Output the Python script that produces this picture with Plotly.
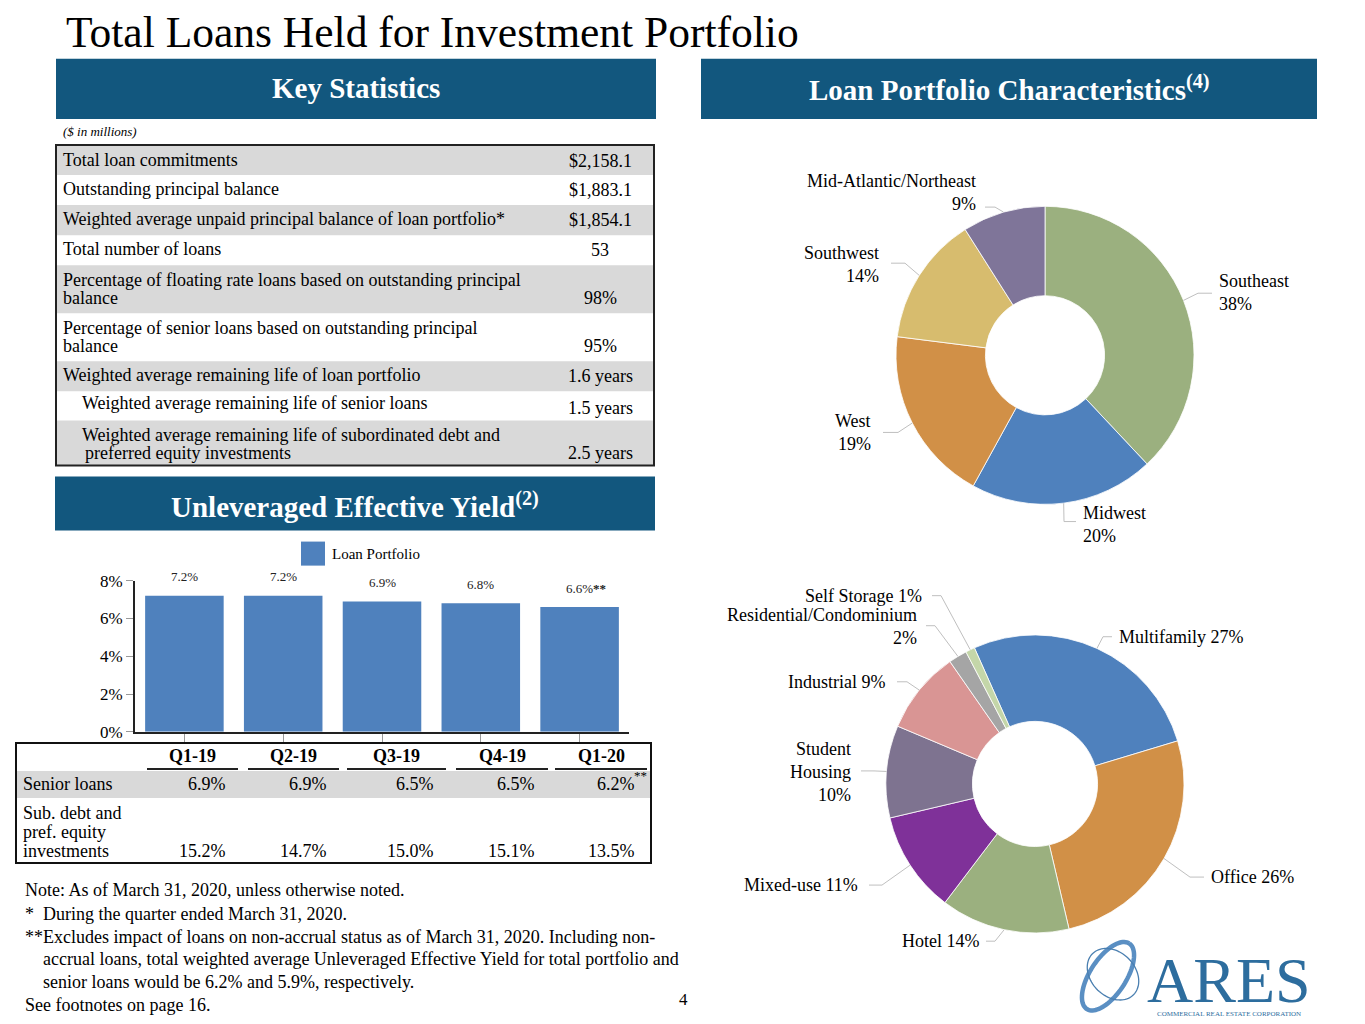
import math
import numpy as np
import plotly.graph_objects as go

W, H = 1365, 1024
SERIF = "Liberation Serif, Times New Roman, serif"
NAVY = "#12577E"
GRAY = "#D9D9D9"
BAR_BLUE = "#4F81BD"
LEADER = "#BFBFBF"

# ---------------- data ----------------
stat_labels = [
    "Total loan commitments",
    "Outstanding principal balance",
    "Weighted average unpaid principal balance of loan portfolio*",
    "Total number of loans",
    "Percentage of floating rate loans based on outstanding principal|balance",
    "Percentage of senior loans based on outstanding principal|balance",
    "Weighted average remaining life of loan portfolio",
    "Weighted average remaining life of senior loans",
    "Weighted average remaining life of subordinated debt and| preferred equity investments",
]
stat_values = ["$2,158.1", "$1,883.1", "$1,854.1", "53", "98%", "95%",
               "1.6 years", "1.5 years", "2.5 years"]

quarters = ["Q1-19", "Q2-19", "Q3-19", "Q4-19", "Q1-20"]
portfolio_yield = [7.2, 7.2, 6.9, 6.8, 6.6]
portfolio_note = ["", "", "", "", "**"]
senior_yield = [6.9, 6.9, 6.5, 6.5, 6.2]
sub_debt_yield = [15.2, 14.7, 15.0, 15.1, 13.5]

region_names = ["Southeast", "Midwest", "West", "Southwest", "Mid-Atlantic/Northeast"]
region_pct = [38, 20, 19, 14, 9]
region_colors = ["#9BB07F", "#4F81BD", "#D19047", "#D7BC6E", "#7F7599"]

property_names = ["Multifamily", "Office", "Hotel", "Mixed-use", "Student Housing",
                  "Industrial", "Residential/Condominium", "Self Storage"]
property_pct = [27, 26, 14, 11, 10, 9, 2, 1]
property_colors = ["#4F81BD", "#D19047", "#9BB07F", "#7F3199", "#7E7390",
                   "#D99594", "#A5A5A5", "#C4D6A9"]

footnotes = [
    "Note: As of March 31, 2020, unless otherwise noted.",
    "*  During the quarter ended March 31, 2020.",
    "**Excludes impact of loans on non-accrual status as of March 31, 2020. Including non-",
    "accrual loans, total weighted average Unleveraged Effective Yield for total portfolio and",
    "senior loans would be 6.2% and 5.9%, respectively.",
    "See footnotes on page 16.",
]

# ---------------- helpers ----------------
# page offset / vertical scale observed in the rendered photograph
Y_OFF, Y_SCALE = 9.2, 0.98


def px(x):
    return x / W


def py(y):
    return 1 - ((y - Y_OFF) / Y_SCALE) / H


fig = go.Figure()


def txt(x, y, s, size=18, color="black", xanchor="left", yanchor="middle"):
    fig.add_annotation(x=px(x), y=py(y), xref="paper", yref="paper", text=s,
                       showarrow=False, xanchor=xanchor, yanchor=yanchor,
                       borderpad=0,
                       font=dict(family=SERIF, size=size, color=color))


def rect(x0, y0, x1, y1, fill=None, line=None, lw=0, layer="below"):
    fig.add_shape(type="rect", xref="paper", yref="paper",
                  x0=px(x0), x1=px(x1), y0=py(y1), y1=py(y0),
                  fillcolor=fill if fill else "rgba(0,0,0,0)",
                  line=dict(color=line if line else "rgba(0,0,0,0)", width=lw),
                  layer=layer)


def polyline(pts, color=LEADER, width=1):
    path = "M " + " L ".join(f"{px(x):.5f},{py(y):.5f}" for x, y in pts)
    fig.add_shape(type="path", xref="paper", yref="paper", path=path,
                  line=dict(color=color, width=width), layer="above")


# ---------------- title & header bars ----------------
txt(65, 32, "Total Loans Held for Investment Portfolio", size=43.5)
rect(56, 59, 656, 119, fill=NAVY)
txt(356, 88, "<b>Key Statistics</b>", size=29, color="white", xanchor="center")
rect(701, 59, 1317, 119, fill=NAVY)
txt(1009, 88, "<b>Loan Portfolio Characteristics<sup>(4)</sup></b>", size=29,
    color="white", xanchor="center")
rect(55, 476, 655, 530, fill=NAVY)
txt(355, 504, "<b>Unleveraged Effective Yield<sup>(2)</sup></b>", size=29,
    color="white", xanchor="center")

# ---------------- key statistics table ----------------
txt(62, 132, "<i>($ in millions)</i>", size=13)
row_bounds = [(146, 175), (175, 205), (205, 235), (235, 265), (265, 313),
              (313, 361), (361, 391), (391, 420), (420, 465)]
row_indent = [62, 62, 62, 62, 62, 62, 62, 81, 81]
for i, (lab, val) in enumerate(zip(stat_labels, stat_values)):
    y0, y1 = row_bounds[i]
    if i % 2 == 0:
        rect(57, y0, 653, y1, fill=GRAY)
    lines = lab.split("|")
    if len(lines) == 1:
        yc = (y0 + y1) / 2 - (1 if i != 7 else 3)
        txt(row_indent[i], yc, lines[0])
        txt(600, (y0 + y1) / 2 + (2 if i == 7 else 0), val, xanchor="center")
    else:
        ys = [y0 + 15, y0 + 33]
        for ln, yy in zip(lines, ys):
            txt(row_indent[i] + (3 if ln.startswith(" ") else 0), yy, ln.strip())
        txt(600, ys[-1], val, xanchor="center")
rect(56, 145, 654, 465, line="#222222", lw=2, layer="above")

# ---------------- bar chart ----------------
fig.add_trace(go.Bar(x=quarters, y=portfolio_yield, marker=dict(color=BAR_BLUE, line=dict(width=0)),
                     showlegend=False, hoverinfo="skip", xaxis="x", yaxis="y"))
for q, v, n in zip(quarters, portfolio_yield, portfolio_note):
    label = f"{v:.1f}%" + (f"<b>{n}</b>" if n else "")
    fig.add_annotation(x=q, y=v, xref="x", yref="y", text=label, showarrow=False,
                       yshift=19, xshift=(6 if n else 0), yanchor="middle",
                       font=dict(family=SERIF, size=13, color="#222222"))

# legend
rect(301, 541, 325, 565, fill=BAR_BLUE)
txt(331, 553, "Loan Portfolio", size=15)

# yield table
rect(16, 742, 651, 862, line="#111111", lw=2, layer="above")
rect(17, 770, 650, 797, fill=GRAY)
col_left = [147, 248, 347, 456, 555]
col_right = [238, 339, 446, 548, 647]
val_right = [227, 328, 435, 536, 636]
for i, q in enumerate(quarters):
    cx = (col_left[i] + col_right[i]) / 2
    txt(cx, 755, f"<b>{q}</b>", xanchor="center")
    fig.add_shape(type="line", xref="paper", yref="paper", x0=px(col_left[i]), x1=px(col_right[i]),
                  y0=py(768), y1=py(768), line=dict(color="#222222", width=2))
    txt(val_right[i], 783, f"{senior_yield[i]:.1f}%", xanchor="right")
    txt(val_right[i], 850, f"{sub_debt_yield[i]:.1f}%", xanchor="right")
txt(633, 775, "**", size=13, xanchor="left")
txt(22, 783, "Senior loans")
for yy, ln in zip([812, 831, 850], ["Sub. debt and", "pref. equity", "investments"]):
    txt(22, yy, ln)

# ---------------- donuts ----------------
def donut(names, vals, colors, cx, cy, r, hole, rotation):
    fig.add_trace(go.Pie(labels=names, values=vals, hole=hole, sort=False,
                         direction="clockwise", rotation=rotation,
                         marker=dict(colors=colors, line=dict(color="white", width=0.8)),
                         textinfo="none", hoverinfo="label+percent", showlegend=False,
                         domain=dict(x=[px(cx - r), px(cx + r)], y=[py(cy + r), py(cy - r)])))


def slice_points(vals, cx, cy, r, rotation):
    tot = float(sum(vals))
    acc = 0.0
    pts = []
    for v in vals:
        mid = rotation + (acc + v / 2) / tot * 360.0
        a = math.radians(mid)
        pts.append((cx + r * math.sin(a), cy - r * math.cos(a)))
        acc += v
    return pts


R1 = dict(cx=1045, cy=355, r=149)
donut(region_names, region_pct, region_colors, R1["cx"], R1["cy"], R1["r"], 0.40, 0)
R2 = dict(cx=1035, cy=783, r=149)
donut(property_names, property_pct, property_colors, R2["cx"], R2["cy"], R2["r"], 0.42, -24)

# label placement (x, [line y's], anchor, leader start, leader elbow)
region_layout = [
    (1218, [281, 304], "left", (1212, 293), (1198, 293)),
    (1082, [512, 535], "left", (1076, 521), (1064, 521)),
    (872, [421, 444], "right", (883, 432), (898, 432)),
    (880, [253, 276], "right", (891, 263), (905, 263)),
    (977, [181, 204], "right", (985, 207), (995, 207)),
]
ends = slice_points(region_pct, R1["cx"], R1["cy"], R1["r"], 0)
for name, pct, lay, end in zip(region_names, region_pct, region_layout, ends):
    x, ys, anc, st, el = lay
    for ln, yy in zip([name, f"{pct}%"], ys):
        txt(x, yy, ln, xanchor=anc)
    polyline([st, el, end])

property_layout = [
    (1118, [636], "left", (1112, 636), (1103, 636)),
    (1210, [876], "left", (1204, 876), (1190, 876)),
    (980, [940], "right", (986, 940), (995, 940)),
    (859, [884], "right", (869, 884), (882, 884)),
    (852, [748, 771, 794], "right", (861, 770), (874, 770)),
    (886, [681], "right", (897, 681), (907, 681)),
    (918, [614, 637], "right", (926, 625), (935, 625)),
    (923, [595], "right", (932, 595), (941, 595)),
]
ends = slice_points(property_pct, R2["cx"], R2["cy"], R2["r"], -24)
for name, pct, lay, end in zip(property_names, property_pct, property_layout, ends):
    x, ys, anc, st, el = lay
    if len(ys) == 1:
        lines = [f"{name} {pct}%"]
    elif len(ys) == 2:
        lines = [name, f"{pct}%"]
    else:
        lines = name.split() + [f"{pct}%"]
    for ln, yy in zip(lines, ys):
        txt(x, yy, ln, xanchor=anc)
    polyline([st, el, end])

# ---------------- footnotes ----------------
foot_y = [889, 913, 936, 958, 981, 1004]
foot_x = [24, 24, 24, 42, 42, 24]
for s, yy, xx in zip(footnotes, foot_y, foot_x):
    txt(xx, yy, s)
txt(683, 998, "4", size=17, xanchor="center")

# ---------------- logo ----------------
LOGO = "#2D6D9E"


def ellipse(cx, cy, a, b, theta_deg, color, width):
    th = math.radians(theta_deg)
    t = np.linspace(0, 2 * np.pi, 90)
    xs = cx + a * np.cos(t) * math.cos(th) - b * np.sin(t) * math.sin(th)
    ys = cy + a * np.cos(t) * math.sin(th) + b * np.sin(t) * math.cos(th)
    polyline(list(zip(xs, ys)), color=color, width=width)


ellipse(1108, 975, 39, 18, -57, "#5A8FC3", 4.5)
ellipse(1113, 973, 29, 22, 45, "#4A7FB0", 1.3)
txt(1229, 979, "ARES", size=64, color=LOGO, xanchor="center")
txt(1229, 1013, "COMMERCIAL REAL ESTATE CORPORATION", size=7, color=LOGO, xanchor="center")

# ---------------- layout ----------------
fig.update_layout(
    width=W, height=H, autosize=False,
    margin=dict(l=0, r=0, t=0, b=0),
    paper_bgcolor="white", plot_bgcolor="rgba(0,0,0,0)",
    font=dict(family=SERIF, size=18, color="black"),
    bargap=0.205,
    xaxis=dict(domain=[px(135), px(629)], range=[-0.5, 4.5], showline=True, linecolor="#222222",
               linewidth=2, ticks="outside", ticklen=8, tickcolor="#999999",
               showticklabels=False, showgrid=False, zeroline=False, fixedrange=True),
    yaxis=dict(domain=[py(731), py(580)], range=[0, 8], dtick=2, ticksuffix="%",
               showline=True, linecolor="#222222", linewidth=2, ticks="outside",
               ticklen=7, tickcolor="#999999", showgrid=False, zeroline=False,
               tickfont=dict(family=SERIF, size=17, color="black"), fixedrange=True),
    showlegend=False,
)

fig.write_html("out.html", config={"displayModeBar": False},
               post_script="document.body.style.margin='0';document.body.style.overflow='hidden';")
